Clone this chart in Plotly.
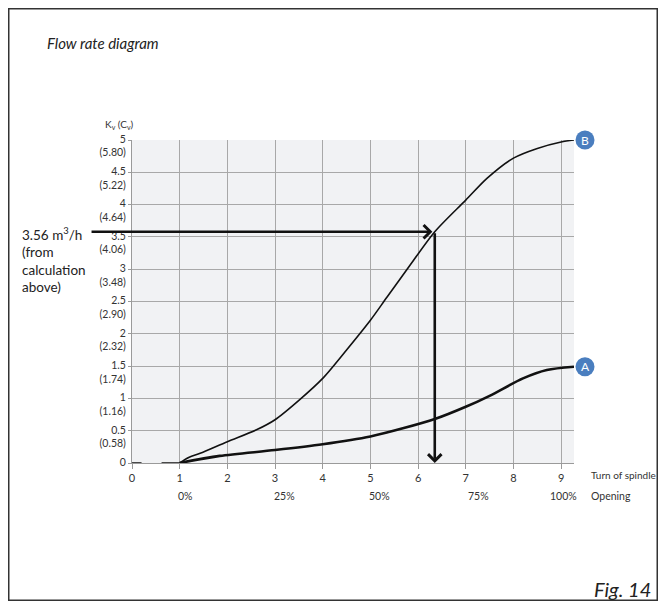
import plotly.graph_objects as go

# ---- data ----
turns = [0, 1, 2, 3, 4, 5, 6, 7, 8, 9]
kv_ticks = [0, 0.5, 1, 1.5, 2, 2.5, 3, 3.5, 4, 4.5, 5]
kv_labels = ["0<br>\u00a0", "0.5<br>(0.58)", "1<br>(1.16)", "1.5<br>(1.74)", "2<br>(2.32)",
             "2.5<br>(2.90)", "3<br>(3.48)", "3.5<br>(4.06)", "4<br>(4.64)",
             "4.5<br>(5.22)", "5<br>(5.80)"]

curve_b_x = [1.0, 1.2, 1.43, 2.0, 2.6, 3.0, 3.5, 4.0, 4.5, 5.0, 5.35, 5.83, 6.35, 7.0, 7.45, 8.0, 8.5, 9.0, 9.27]
curve_b_y = [0.0, 0.09, 0.15, 0.33, 0.51, 0.67, 0.97, 1.31, 1.75, 2.21, 2.57, 3.06, 3.58, 4.07, 4.41, 4.72, 4.87, 4.97, 5.0]

curve_a_x = [1.0, 1.84, 3.0, 4.0, 5.0, 5.7, 6.35, 7.0, 7.5, 8.2, 8.7, 9.27]
curve_a_y = [0.0, 0.11, 0.2, 0.29, 0.41, 0.54, 0.68, 0.87, 1.04, 1.31, 1.44, 1.49]

tail_x = [0.0, 0.2, None, 0.62, 1.0]
tail_y = [0, 0, None, 0, 0]

opening_labels = ["0%", "25%", "50%", "75%", "100%"]
opening_x = [1.12, 3.2, 5.2, 7.27, 9.04]

kv_target = 3.58
turn_result = 6.35
end_labels = ["B", "A"]
end_y = [5.0, 1.49]

X_MAX = 9.27
FONT = "Lato, 'Open Sans', sans-serif"
BLUE = "#4a7ebf"

# page-pixel -> paper helpers (plot area spans page x 132..574, y 140..463)
def PX(page_x):
    return (page_x - 132) / 442.0

def PY(page_y):
    return (463 - page_y) / 323.0

fig = go.Figure()

fig.add_trace(go.Scatter(x=tail_x, y=tail_y, mode="lines",
                         line=dict(color="#111", width=1.5), hoverinfo="skip"))
fig.add_trace(go.Scatter(x=curve_b_x, y=curve_b_y, mode="lines",
                         line=dict(color="#111", width=1.6, shape="spline", smoothing=0.8)))
fig.add_trace(go.Scatter(x=curve_a_x, y=curve_a_y, mode="lines",
                         line=dict(color="#111", width=2.6, shape="spline", smoothing=0.8)))

annotations = []
shapes = []
# horizontal arrow
annotations.append(dict(x=turn_result - 0.05, y=kv_target, ax=-0.88, ay=kv_target,
                        xref="x", yref="y", axref="x", ayref="y", text="",
                        showarrow=True, arrowhead=4, arrowsize=1.0, arrowwidth=2.6,
                        arrowcolor="#111"))
# vertical arrow
annotations.append(dict(x=turn_result, y=0.0, ax=turn_result, ay=kv_target,
                        xref="x", yref="y", axref="x", ayref="y", text="",
                        showarrow=True, arrowhead=4, arrowsize=1.0, arrowwidth=2.6,
                        arrowcolor="#111"))


def label(x, y, text, size, xanchor="center", yanchor="middle", color="#333", **kw):
    annotations.append(dict(x=x, y=y, xref="paper", yref="paper", text=text,
                            xanchor=xanchor, yanchor=yanchor, showarrow=False,
                            font=dict(size=size, color=color, family=FONT), **kw))


for lab, xv in zip(opening_labels, opening_x):
    label(xv / X_MAX, PY(496), lab, 10.5)
label(PX(589), PY(475), "Turn of spindle", 10, xanchor="left")
label(PX(589), PY(496), "Opening", 10.5, xanchor="left")
label(PX(119), PY(125), "K<sub>v</sub> (C<sub>v</sub>)", 10)
label(PX(20), PY(223), "3.56 m<sup>3</sup>/h<br>(from<br>calculation<br>above)", 13.5,
      xanchor="left", yanchor="top", color="#222", align="left")
label(PX(45), PY(43), "<i>Flow rate diagram</i>", 15, xanchor="left", color="#222")
label(PX(653), PY(589), "<i>Fig. 14</i>", 20, xanchor="right", color="#222")

# A / B end markers
R = 9.5
for lab, yv in zip(end_labels, end_y):
    cy = 463 - yv * 323 / 5.0
    cx = 585
    shapes.append(dict(type="circle", xref="paper", yref="paper",
                       x0=PX(cx - R), x1=PX(cx + R), y0=PY(cy + R), y1=PY(cy - R),
                       fillcolor=BLUE, line=dict(width=0), layer="above"))
    label(PX(cx), PY(cy), lab, 12, color="white")

# outer frame
shapes.append(dict(type="rect", xref="paper", yref="paper",
                   x0=PX(8.75), x1=PX(657.25), y0=PY(600.25), y1=PY(8.75),
                   line=dict(color="#333", width=1.5), fillcolor="rgba(0,0,0,0)", layer="below"))

fig.update_layout(
    width=650, height=593,
    margin=dict(l=124, r=84, t=132, b=138),
    paper_bgcolor="white", plot_bgcolor="#f1f2f4",
    showlegend=False,
    annotations=annotations, shapes=shapes,
    font=dict(family=FONT, size=10, color="#333"),
    xaxis=dict(range=[0, X_MAX], tickvals=turns, ticktext=[str(t) for t in turns],
               showgrid=True, gridcolor="#a8a8a8", gridwidth=1,
               showline=True, linecolor="#9a9a9a", linewidth=1, zeroline=False,
               ticks="outside", ticklen=5, tickcolor="#9a9a9a",
               tickfont=dict(size=11, color="#333", family=FONT), fixedrange=True),
    yaxis=dict(range=[0, 5], tickvals=kv_ticks, ticktext=kv_labels,
               showgrid=True, gridcolor="#a8a8a8", gridwidth=1,
               showline=True, linecolor="#9a9a9a", linewidth=1, zeroline=False,
               ticks="outside", ticklen=3, tickcolor="#9a9a9a", ticklabelshift=6,
               tickfont=dict(size=10.5, color="#333", family=FONT), fixedrange=True),
)

fig.write_html("out.html")
